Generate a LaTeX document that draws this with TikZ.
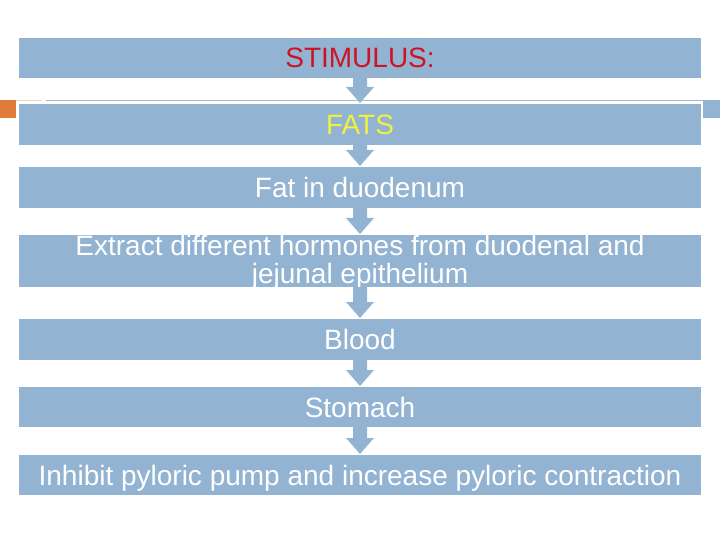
\documentclass[tikz,border=0pt]{standalone}
\usepackage{fontspec}
\setmainfont{Liberation Sans}
\usetikzlibrary{calc}
\definecolor{boxc}{HTML}{93B3D2}
\definecolor{stimred}{HTML}{CC1424}
\definecolor{fatyel}{HTML}{F2F23C}
\definecolor{accorange}{HTML}{E07B39}
\definecolor{rulegrey}{HTML}{A9B9CC}
\definecolor{ruleorange}{HTML}{F3D6BF}
\newcommand\flowarr[2]{%
  \fill[boxc] let \p1=(#1.south), \p2=(#2.north) in
    (\x1-7pt,\y1) -- (\x1-7pt,\y2+17pt) -- (\x1-14pt,\y2+17pt) -- (\x1,\y2+1pt)
    -- (\x1+14pt,\y2+17pt) -- (\x1+7pt,\y2+17pt) -- (\x1+7pt,\y1) -- cycle;}
\begin{document}
\begin{tikzpicture}[x=1pt,y=-1pt,
  stepbox/.style={fill=boxc, draw=none, minimum width=682pt, inner sep=0pt, outer sep=0pt},
  lbl/.style={font=\fontsize{28}{28.5}\selectfont, text=white, inner sep=0pt, anchor=base}]
\useasboundingbox (0,0) rectangle (720,540);
% decorative rule and squares
\fill[accorange] (0,100) rectangle (16,118);
\fill[boxc] (703,100) rectangle (720,118);
\draw[ruleorange, line width=1.2pt] (16,100.5) -- (42,100.5);
\draw[rulegrey, line width=1.5pt] (46,100.5) -- (703,100.5);
% boxes
\node[stepbox, minimum height=40pt] (b1) at (360,58) {};
\node[stepbox, minimum height=41pt] (b2) at (360,124.5) {};
\node[stepbox, minimum height=41pt] (b3) at (360,187.5) {};
\node[stepbox, minimum height=52pt] (b4) at (360,261) {};
\node[stepbox, minimum height=41pt] (b5) at (360,339.5) {};
\node[stepbox, minimum height=40pt] (b6) at (360,407) {};
\node[stepbox, minimum height=40pt] (b7) at (360,475) {};
% labels
\node[lbl, text=stimred] (t1) at ($(b1.center)+(0,10)$) {STIMULUS:};
\node[lbl, text=fatyel] (t2) at ($(b2.center)+(0,10)$) {FATS};
\node[lbl] (t3) at ($(b3.center)+(0,10)$) {Fat in duodenum};
\node[lbl, align=center, anchor=center] (t4) at (360,262.5) {Extract different hormones from duodenal and\\jejunal epithelium};
\node[lbl] (t5) at ($(b5.center)+(0,10)$) {Blood};
\node[lbl] (t6) at ($(b6.center)+(0,10)$) {Stomach};
\node[lbl] (t7) at ($(b7.center)+(0,10)$) {Inhibit pyloric pump and increase pyloric contraction};
% arrows
\flowarr{b1}{b2}
\flowarr{b2}{b3}
\flowarr{b3}{b4}
\flowarr{b4}{b5}
\flowarr{b5}{b6}
\flowarr{b6}{b7}
\end{tikzpicture}
\end{document}
